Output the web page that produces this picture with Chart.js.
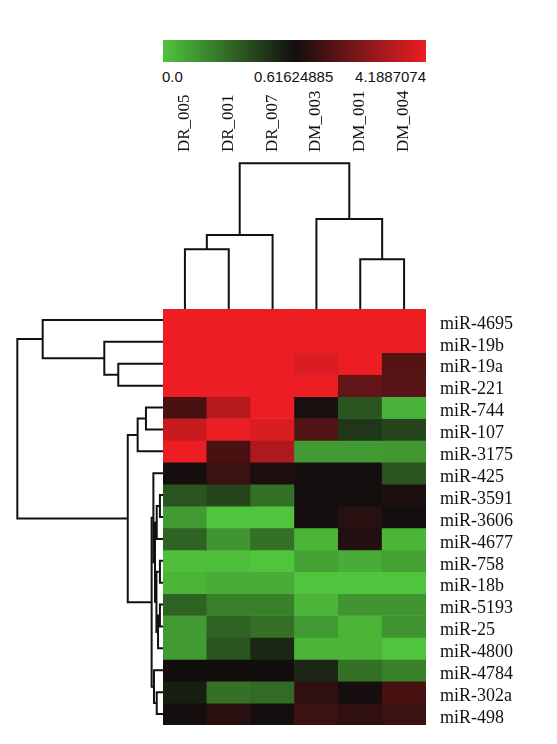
<!DOCTYPE html>
<html>
<head>
<meta charset="utf-8">
<script src="https://cdn.jsdelivr.net/npm/chart.js@4.4.0/dist/chart.umd.min.js"></script>
<style>
  body { margin: 0; background: #fff; width: 557px; height: 744px; position: relative; overflow: hidden; }
  .box { position: absolute; }
  #colorbar { left: 163px; top: 40px; width: 263px; height: 22px; }
  .cb { position: absolute; top: 68px; font: 15px "Liberation Sans", sans-serif; color: #111; }
</style>
</head>
<body>
<div id="colorbar" class="box"></div>
<div class="cb" style="left:162px">0.0</div>
<div class="cb" style="left:254px">0.61624885</div>
<div class="cb" style="right:131px">4.1887074</div>
<div class="box" style="left:163px;top:90px;width:263px;height:219px"><canvas id="colDendro"></canvas></div>
<div class="box" style="left:0;top:309px;width:163px;height:416px"><canvas id="rowDendro"></canvas></div>
<div class="box" style="left:163px;top:309px;width:394px;height:430px"><canvas id="heat"></canvas></div>
<script>
// samples (columns) and miRNAs (rows), in dendrogram order
const colLabels = ["DR_005", "DR_001", "DR_007", "DM_003", "DM_001", "DM_004"];
const rowLabels = ["miR-4695", "miR-19b", "miR-19a", "miR-221", "miR-744", "miR-107", "miR-3175",
  "miR-425", "miR-3591", "miR-3606", "miR-4677", "miR-758", "miR-18b", "miR-5193", "miR-25",
  "miR-4800", "miR-4784", "miR-302a", "miR-498"];

// expression per sample, one value per row
const dr005 = [4.19, 4.19, 4.19, 4.19, 1.5, 3.6, 4.19, 0.7, 0.38, 0.14, 0.33, 0.02, 0.05, 0.33, 0.14, 0.14, 0.62, 0.56, 0.65];
const dr001 = [4.19, 4.19, 4.19, 4.19, 3.3, 4.19, 1.5, 1.3, 0.43, 0.0, 0.16, 0.02, 0.08, 0.23, 0.33, 0.38, 0.62, 0.28, 1.0];
const dr007 = [4.19, 4.19, 4.19, 4.19, 4.19, 3.9, 3.2, 0.8, 0.28, 0.0, 0.28, 0.0, 0.08, 0.23, 0.28, 0.53, 0.62, 0.3, 0.65];
const dm003 = [4.19, 4.19, 3.9, 4.19, 0.75, 1.7, 0.14, 0.65, 0.65, 0.65, 0.05, 0.12, 0.0, 0.05, 0.14, 0.05, 0.53, 1.1, 1.3];
const dm001 = [4.19, 4.19, 4.19, 1.95, 0.38, 0.48, 0.14, 0.65, 0.65, 1.0, 0.9, 0.08, 0.0, 0.16, 0.05, 0.05, 0.28, 0.7, 1.1];
const dm004 = [4.19, 4.19, 1.7, 1.75, 0.06, 0.43, 0.15, 0.38, 0.8, 0.65, 0.05, 0.12, 0.0, 0.16, 0.16, 0.0, 0.23, 1.5, 1.3];

// colour scale stops
const scaleMin = 0.0, scaleMid = 0.61624885, scaleMax = 4.1887074;

// linkage tables: [left, right, distance]; leaves are 0..n-1, merge k is n+k
const colLinks = [[0, 1, 0.41], [6, 2, 0.508], [4, 5, 0.341], [3, 8, 0.618], [7, 9, 1.0]];
const rowLinks = [
  [2, 3, 0.307], [1, 19, 0.403], [0, 20, 0.826],
  [4, 5, 0.117], [22, 6, 0.174],
  [8, 9, 0.021], [24, 10, 0.043], [11, 12, 0.021], [13, 14, 0.021], [27, 15, 0.034],
  [26, 28, 0.045], [25, 29, 0.055], [7, 30, 0.066], [17, 18, 0.043], [16, 32, 0.062],
  [31, 33, 0.078], [23, 34, 0.242], [21, 35, 1.0]
];

const GREEN = [80, 196, 60], BLACK = [18, 14, 14], RED = [236, 30, 36];
function valueColor(v) {
  let to, f;
  if (v <= scaleMid) { to = GREEN; f = 1 - (v - scaleMin) / (scaleMid - scaleMin); }
  else { to = RED; f = Math.min(1, (v - scaleMid) / (scaleMax - scaleMid)); }
  const c = BLACK.map((b, k) => Math.round(b + (to[k] - b) * f));
  return "rgb(" + c.join(",") + ")";
}
const rgb = (c) => "rgb(" + c.join(",") + ")";
document.getElementById("colorbar").style.background =
  "linear-gradient(to right, " + rgb(GREEN) + " 0%, " + rgb(BLACK) + " 50%, " + rgb(RED) + " 100%)";

// turn a linkage table into U-shaped segments [[height, pos], ...]
function dendroSegments(links, nLeaves) {
  const pos = [], hgt = [];
  for (let i = 0; i < nLeaves; i++) { pos.push(i); hgt.push(0); }
  return links.map(([a, b, h]) => {
    const seg = [[hgt[a], pos[a]], [h, pos[a]], [h, pos[b]], [hgt[b], pos[b]]];
    pos.push((pos[a] + pos[b]) / 2);
    hgt.push(h);
    return seg;
  });
}

const lineStyle = { showLine: true, pointRadius: 0, borderColor: "#111", borderWidth: 2, tension: 0 };
const baseOpts = {
  responsive: true, maintainAspectRatio: false, animation: false,
  layout: { padding: 0 },
  plugins: { legend: { display: false }, tooltip: { enabled: false } },
};

// column dendrogram + sample labels
new Chart(document.getElementById("colDendro"), {
  type: "scatter",
  data: {
    datasets: dendroSegments(colLinks, colLabels.length).map((seg) => ({
      ...lineStyle, data: seg.map(([h, p]) => ({ x: p, y: h })),
    })),
  },
  options: {
    ...baseOpts,
    scales: {
      x: {
        type: "linear", position: "top", min: -0.5, max: 5.5,
        afterBuildTicks: (s) => { s.ticks = colLabels.map((_, i) => ({ value: i })); },
        afterFit: (s) => { s.height = 65; s.paddingLeft = 0; s.paddingRight = 0; },
        ticks: {
          callback: (v, i) => colLabels[i], minRotation: 90, maxRotation: 90, autoSkip: false,
          padding: 3, labelOffset: 20, color: "#111", font: { family: "Liberation Serif", size: 17 },
        },
        grid: { display: false, drawTicks: false }, border: { display: false },
      },
      y: { min: 0, max: 1.057, display: false },
    },
  },
});

// row dendrogram
new Chart(document.getElementById("rowDendro"), {
  type: "scatter",
  data: {
    datasets: dendroSegments(rowLinks, rowLabels.length).map((seg) => ({
      ...lineStyle, data: seg.map(([h, p]) => ({ x: h, y: p })),
    })),
  },
  options: {
    ...baseOpts,
    scales: {
      x: { type: "linear", reverse: true, min: 0, max: 1.119, display: false },
      y: { type: "linear", reverse: true, min: -0.5, max: 18.5, display: false },
    },
  },
});

// heatmap: one stacked bar per row, cells coloured by value
const samples = [dr005, dr001, dr007, dm003, dm001, dm004];
new Chart(document.getElementById("heat"), {
  type: "bar",
  data: {
    labels: colLabels,
    datasets: rowLabels.map((name, r) => ({
      label: name,
      data: samples.map(() => 1),
      backgroundColor: samples.map((s) => valueColor(s[r])),
      borderWidth: 0,
      barPercentage: 1,
      categoryPercentage: 1,
    })),
  },
  options: {
    ...baseOpts,
    layout: { padding: { bottom: 14 } },
    scales: {
      x: { stacked: true, display: false },
      y: {
        stacked: true, reverse: true, min: 0, max: rowLabels.length, position: "right",
        afterBuildTicks: (s) => { s.ticks = rowLabels.map((_, i) => ({ value: i + 0.5 })); },
        afterFit: (s) => { s.width = 131; s.paddingTop = 0; s.paddingBottom = 0; },
        ticks: {
          callback: (v, i) => rowLabels[i], autoSkip: false, padding: 14, labelOffset: 4,
          color: "#111", font: { family: "Liberation Serif", size: 18 },
        },
        grid: { display: false, drawTicks: false }, border: { display: false },
      },
    },
  },
});
</script>
</body>
</html>
